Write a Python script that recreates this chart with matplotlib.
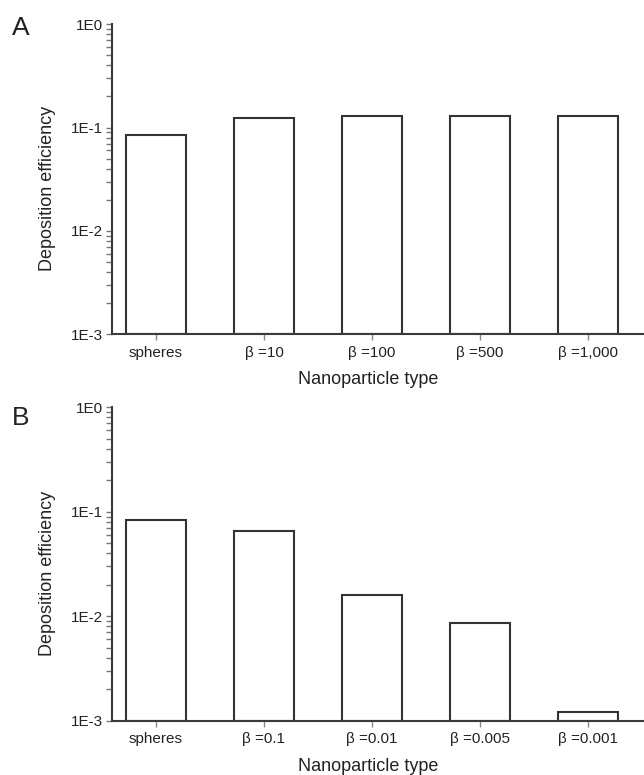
import numpy as np
import matplotlib
matplotlib.use('Agg')
import matplotlib.pyplot as plt
from matplotlib.ticker import LogLocator, FixedLocator, FixedFormatter

plt.rcParams['font.family'] = ['Liberation Sans', 'DejaVu Sans']

# data
typesA = ['spheres', 'β =10', 'β =100', 'β =500', 'β =1,000']
effA = [0.084, 0.123, 0.129, 0.130, 0.130]

typesB = ['spheres', 'β =0.1', 'β =0.01', 'β =0.005', 'β =0.001']
effB = [0.084, 0.065, 0.0158, 0.0087, 0.00122]

yTicks = [1e-3, 1e-2, 1e-1, 1e0]
yTickLabels = ['1E-3', '1E-2', '1E-1', '1E0']

axisColor = '#3a3a3a'
textColor = '#222222'
tickFont = 11
labelFont = 13

def drawPanel(ax, types, eff, letter):
  x = np.arange(len(types))
  ymin = 1e-3
  ax.bar(x, [v - ymin for v in eff], 0.55, bottom = ymin, color = 'white',
         edgecolor = '#333333', linewidth = 1.5, zorder = 2)
  ax.set_yscale('log')
  ax.set_ylim(ymin, 1.0)
  ax.set_xlim(-0.405, 4.52)

  ax.yaxis.set_major_locator(FixedLocator(yTicks))
  ax.yaxis.set_major_formatter(FixedFormatter(yTickLabels))
  ax.yaxis.set_minor_locator(LogLocator(base = 10, subs = np.arange(2, 10)))
  ax.yaxis.set_minor_formatter(FixedFormatter([]))

  ax.set_xticks(x)
  ax.set_xticklabels(types)

  for side in ['top', 'right']:
    ax.spines[side].set_visible(False)
  for side in ['left', 'bottom']:
    ax.spines[side].set_color(axisColor)
    ax.spines[side].set_linewidth(1.5)
    ax.spines[side].set_zorder(3)

  ax.tick_params(axis = 'y', which = 'both', direction = 'out', length = 4.5,
                 width = 1.0, color = '#777777', labelsize = tickFont,
                 labelcolor = textColor, pad = 2)
  ax.tick_params(axis = 'x', direction = 'out', length = 4.5, width = 1.0,
                 color = '#888888', labelsize = tickFont, labelcolor = textColor, pad = 4)

  ax.set_ylabel('Deposition efficiency', fontsize = labelFont, color = textColor)
  ax.set_xlabel('Nanoparticle type', fontsize = labelFont, color = textColor)
  ax.yaxis.set_label_coords(-0.105, 0.47)
  ax.xaxis.set_label_coords(0.481, -0.12)
  ax.xaxis.label.set_va('top')

  return


fig = plt.figure(figsize = (6.44, 7.75), dpi = 100)
axA = fig.add_axes([0.1744, 0.569, 0.8256, 0.3996])
axB = fig.add_axes([0.1744, 0.0701, 0.8256, 0.4044])

drawPanel(axA, typesA, effA, 'A')
drawPanel(axB, typesB, effB, 'B')

fig.text(12 / 644, 1 - 16 / 775, 'A', fontsize = 19, color = textColor, va = 'top', ha = 'left')
fig.text(12 / 644, 1 - 406 / 775, 'B', fontsize = 19, color = textColor, va = 'top', ha = 'left')

plt.savefig('out.png', dpi = 100, facecolor = 'white')
